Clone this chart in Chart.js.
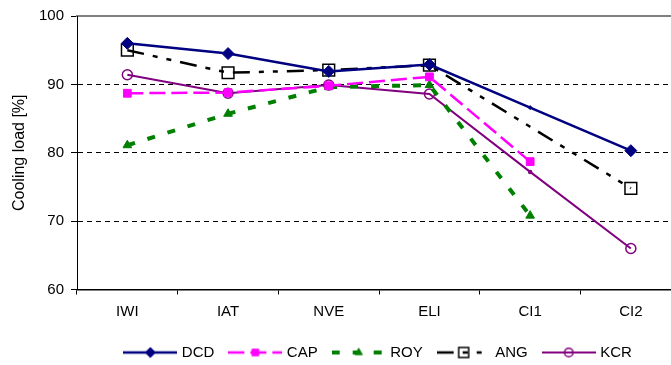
<!DOCTYPE html>
<html>
<head>
<meta charset="utf-8">
<title>Cooling load</title>
<script src="https://cdn.jsdelivr.net/npm/chart.js@4.4.1/dist/chart.umd.min.js"></script>
<style>
    html, body { margin: 0; padding: 0; background: #fff; overflow: hidden; }
    /* the plot runs a little past the right edge of the picture, so the canvas is wider and clipped */
    #wrap { width: 671px; height: 365px; overflow: hidden; position: relative; }
    #chart { display: block; position: absolute; left: 0; top: 0; width: 691px; height: 370px; max-width: none; }
</style>
</head>
<body>
<div id="wrap"><canvas id="chart" width="691" height="370"></canvas></div>
<script>
// values
const categories = ['IWI', 'IAT', 'NVE', 'ELI', 'CI1', 'CI2'];
const dcdValues = [96.0, 94.5, 91.9, 92.9, 86.6, 80.3];
const capValues = [88.7, 88.8, 89.8, 91.1, 78.7, null];
const royValues = [81.1, 85.7, 89.6, 89.9, 70.8, null];
const angValues = [95.0, 91.7, 92.1, 92.8, 83.8, 74.8];
const kcrValues = [91.4, 88.7, 89.9, 88.6, 77.2, 66.0];
const yTickValues = [60, 70, 80, 90, 100];

const FONT = 'Liberation Sans, Arial, sans-serif';

const series = [
    { label: 'DCD', data: dcdValues, color: '#000080', fill: '#000080', dash: [], width: 2.5,
      point: 'rectRot', radius: [6, 6, 6, 6, 2, 6], pointBorder: 1 },
    { label: 'CAP', data: capValues, color: '#ff00ff', fill: '#ff00ff', dash: [16, 6], width: 2.5,
      point: 'rect', radius: 5.5, pointBorder: 1 },
    { label: 'ROY', data: royValues, color: '#008000', fill: '#008000', dash: [8, 13], width: 4,
      point: 'triangle', radius: 5, pointBorder: 1 },
    { label: 'ANG', data: angValues, color: '#000000', fill: 'rgba(0,0,0,0)', dash: [17, 9, 5, 9, 5, 9], width: 2.5,
      point: 'rect', radius: [8.3, 8.3, 8.3, 8.3, 0, 8.3], pointBorder: 1.5 },
    { label: 'KCR', data: kcrValues, color: '#800080', fill: 'rgba(0,0,0,0)', dash: [], width: 2,
      point: 'circle', radius: [5, 5, 5, 5, 1.5, 5], pointBorder: 1.5 }
];

// legend sample: line with the marker in the middle, like the spreadsheet legend
function legendIcon(s) {
    const c = document.createElement('canvas');
    c.width = 54;
    c.height = 16;
    const ctx = c.getContext('2d');
    ctx.strokeStyle = s.color;
    ctx.lineWidth = s.width;
    ctx.setLineDash(s.dash);
    ctx.beginPath();
    ctx.moveTo(0, 8);
    ctx.lineTo(54, 8);
    ctx.stroke();
    ctx.setLineDash([]);
    ctx.fillStyle = s.fill;
    ctx.lineWidth = s.pointBorder;
    const r = Array.isArray(s.radius) ? s.radius[0] : s.radius;
    Chart.helpers.drawPoint(ctx, { pointStyle: s.point, radius: r * 0.85, rotation: 0, borderWidth: s.pointBorder }, 27, 8);
    return c;
}

const icons = series.map(legendIcon);

const datasets = series.map(s => ({
    label: s.label,
    data: s.data,
    borderColor: s.color,
    backgroundColor: s.fill,
    borderWidth: s.width,
    borderDash: s.dash,
    borderCapStyle: 'butt',
    pointStyle: s.point,
    pointRadius: s.radius,
    pointHoverRadius: s.radius,
    pointBackgroundColor: s.fill,
    pointBorderColor: s.color,
    pointBorderWidth: s.pointBorder,
    tension: 0,
    fill: false,
    spanGaps: false
}));

new Chart(document.getElementById('chart').getContext('2d'), {
    type: 'line',
    data: { labels: categories, datasets },
    options: {
        responsive: false,
        animation: false,
        events: [],
        layout: { padding: { top: 16, right: 1, bottom: 0, left: 0 } },
        plugins: {
            tooltip: { enabled: false },
            legend: {
                position: 'bottom',
                fullSize: false,
                labels: {
                    usePointStyle: true,
                    pointStyleWidth: 48,
                    padding: 17,
                    color: '#000',
                    font: { family: FONT, size: 15 },
                    generateLabels(chart) {
                        const items = Chart.defaults.plugins.legend.labels.generateLabels(chart);
                        items.forEach((it, i) => { it.pointStyle = icons[i]; it.fontColor = '#000'; });
                        return items;
                    }
                }
            }
        },
        scales: {
            x: {
                type: 'category',
                position: 'bottom',
                offset: true,
                afterFit(scale) { scale.height = 38.5; },
                grid: { display: true, drawOnChartArea: false, drawTicks: true, offset: true, tickLength: 5, tickColor: '#000', color: '#000' },
                border: { display: true, color: '#000', width: 1.5 },
                ticks: { color: '#000', padding: 8, maxRotation: 0, autoSkip: false, font: { family: FONT, size: 15 } }
            },
            xTop: {
                type: 'category',
                position: 'top',
                offset: true,
                afterFit(scale) { scale.height = 0; },
                grid: { display: false },
                ticks: { display: false },
                border: { display: true, color: '#808080', width: 2 }
            },
            y: {
                min: yTickValues[0],
                max: yTickValues[yTickValues.length - 1],
                afterFit(scale) { scale.width = 77; },
                afterBuildTicks(scale) { scale.ticks = yTickValues.map(v => ({ value: v })); },
                grid: {
                    color: ctx => (ctx.tick && ctx.tick.value === 100 ? 'rgba(0,0,0,0)' : '#000'),
                    lineWidth: 1,
                    tickLength: 6,
                    tickColor: '#000'
                },
                border: { display: true, color: '#000', width: 1, dash: [5, 4] },
                ticks: { color: '#000', padding: 7, font: { family: FONT, size: 15 } },
                title: {
                    display: true,
                    text: 'Cooling load [%]',
                    color: '#000',
                    padding: { top: 10, bottom: 0 },
                    font: { family: FONT, size: 16 }
                }
            }
        }
    }
});
</script>
</body>
</html>
